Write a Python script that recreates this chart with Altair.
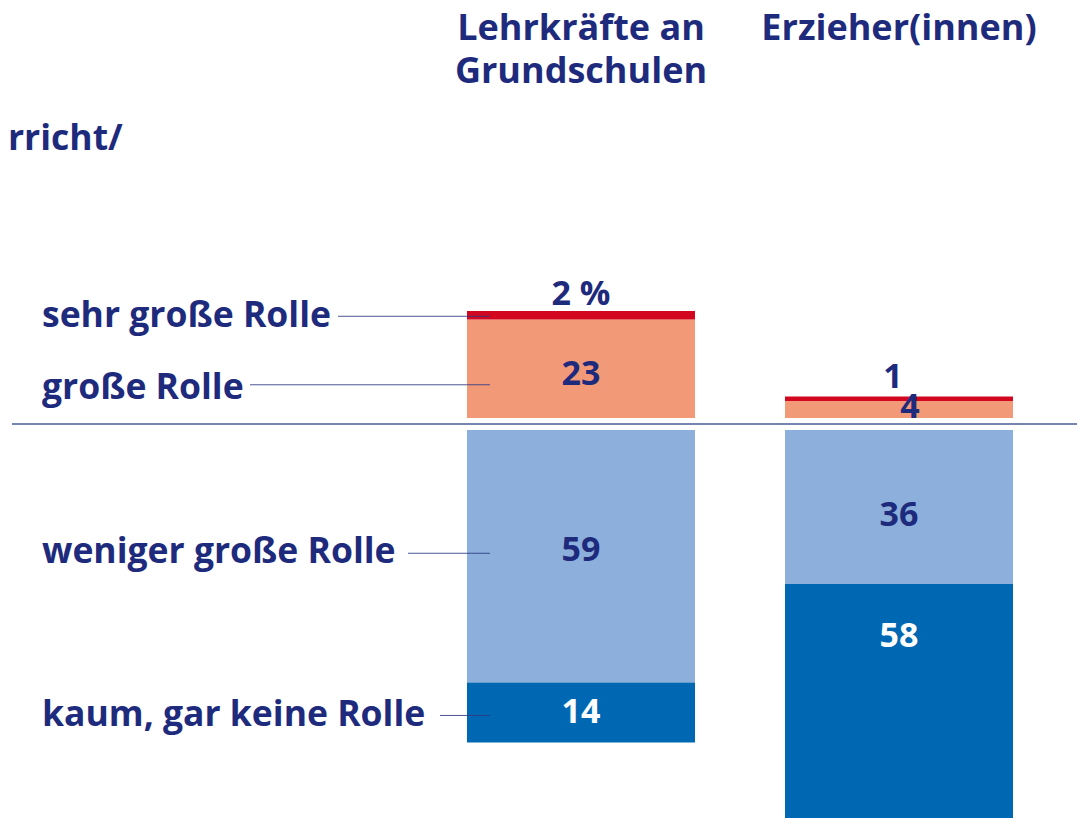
import altair as alt
import pandas as pd

# ---------------- data ----------------
groups = ["Lehrkräfte an Grundschulen", "Erzieher(innen)"]
header_text = ["Lehrkräfte an\nGrundschulen", "Erzieher(innen)"]
categories = ["sehr große Rolle", "große Rolle", "weniger große Rolle", "kaum, gar keine Rolle"]
sehr_gross = [2, 1]
gross = [23, 4]
weniger_gross = [59, 36]
kaum_keine = [14, 58]
cut_title = "rricht/"

# ---------------- style ----------------
NAVY = "#1e2b7d"
colors = ["#d2061e", "#f29a78", "#8cb0db", "#0068b2"]
FONT = "Open Sans"
W, H = 1069, 810
Y_DOMAIN = [-92.06, 97.2]
PPU = H / (Y_DOMAIN[1] - Y_DOMAIN[0])  # pixels per percentage point
# pixel nudges of labels relative to their segment anchors (positive = down)
val_dy = {("Lehrkräfte an Grundschulen", "sehr große Rolle"): -22,
          ("Lehrkräfte an Grundschulen", "große Rolle"): 0,
          ("Lehrkräfte an Grundschulen", "weniger große Rolle"): 1,
          ("Lehrkräfte an Grundschulen", "kaum, gar keine Rolle"): 7,
          ("Erzieher(innen)", "sehr große Rolle"): -25,
          ("Erzieher(innen)", "große Rolle"): -7,
          ("Erzieher(innen)", "weniger große Rolle"): 15,
          ("Erzieher(innen)", "kaum, gar keine Rolle"): -65}
val_dx = {("Erzieher(innen)", "große Rolle"): 11,
          ("Erzieher(innen)", "sehr große Rolle"): -6}
left_dy = [-5, 13, 2, 9]
conn_dy = [-5, 10, 3, 9]
conn_x0 = [330, 242, 400, 432]

# ---------------- tables ----------------
bar_rows, lab_rows = [], []
for i, g in enumerate(groups):
    segs = [
        ("große Rolle", 0, gross[i], "pos", gross[i]),
        ("sehr große Rolle", gross[i], gross[i] + sehr_gross[i], "pos", sehr_gross[i]),
        ("weniger große Rolle", 0, -weniger_gross[i], "neg", weniger_gross[i]),
        ("kaum, gar keine Rolle", -weniger_gross[i], -(weniger_gross[i] + kaum_keine[i]), "neg", kaum_keine[i]),
    ]
    for cat, a, b, sign, val in segs:
        bar_rows.append(dict(group=g, cat=cat, y0=a, y1=b, sign=sign))
        anchor = b if cat == "sehr große Rolle" else (a + b) / 2
        txt = f"{val} %" if (cat == "sehr große Rolle" and i == 0) else str(val)
        lab_rows.append(dict(group=g, cat=cat, v=anchor - val_dy[(g, cat)] / PPU, label=txt,
                             dx=val_dx.get((g, cat), 0),
                             white=cat == "kaum, gar keine Rolle"))
bars = pd.DataFrame(bar_rows)
labs = pd.DataFrame(lab_rows)

first = bars[bars.group == groups[0]].set_index("cat")
mids = [(first.loc[c, "y0"] + first.loc[c, "y1"]) / 2 for c in categories]
left = pd.DataFrame(dict(
    cat=categories,
    v=[m - d / PPU for m, d in zip(mids, left_dy)],
    cv=[m - d / PPU for m, d in zip(mids, conn_dy)],
    cx=conn_x0))

heads = pd.DataFrame(dict(group=groups, text=header_text))
heads["text"] = heads["text"].str.split("\n")

# ---------------- scales ----------------
xscale = alt.Scale(type="band", domain=groups, range=[459, 1005], paddingInner=0.283, paddingOuter=0)
yscale = alt.Scale(domain=Y_DOMAIN, range=[H, 0], nice=False, zero=False)
cscale = alt.Scale(domain=categories, range=colors)

X = alt.X("group:N", scale=xscale, axis=None)

pos = alt.Chart(bars[bars.sign == "pos"]).mark_bar(yOffset=-6, y2Offset=-6, clip=True).encode(
    x=X, y=alt.Y("y0:Q", scale=yscale, axis=None), y2="y1:Q",
    color=alt.Color("cat:N", scale=cscale, legend=None))
neg = alt.Chart(bars[bars.sign == "neg"]).mark_bar(yOffset=6, y2Offset=6, clip=True).encode(
    x=X, y=alt.Y("y0:Q", scale=yscale, axis=None), y2="y1:Q",
    color=alt.Color("cat:N", scale=cscale, legend=None))

baseline = alt.Chart(pd.DataFrame(dict(v=[0]))).mark_rule(color="#4a5a96", strokeWidth=1.5).encode(
    x=alt.value(4), x2=alt.value(W), y=alt.Y("v:Q", scale=yscale, axis=None))

connectors = alt.Chart(left).mark_rule(color="#2b3a80", strokeWidth=1, opacity=0.85).encode(
    x=alt.X("cx:Q", scale=None), x2=alt.value(482),
    y=alt.Y("cv:Q", scale=yscale, axis=None))

left_text = alt.Chart(left).mark_text(align="left", baseline="middle", font=FONT, fontWeight="bold",
                                      fontSize=35.5, color=NAVY).encode(
    x=alt.value(34), y=alt.Y("v:Q", scale=yscale, axis=None), text="cat:N")

val_enc = dict(
    x=X,
    y=alt.Y("v:Q", scale=yscale, axis=None),
    text="label:N",
    color=alt.condition("datum.white", alt.value("#ffffff"), alt.value(NAVY)))
val_layers = [
    alt.Chart(labs).transform_filter(f"datum.dx == {d}").mark_text(
        align="center", baseline="middle", font=FONT, fontWeight="bold", fontSize=34, dx=d).encode(**val_enc)
    for d in sorted(labs["dx"].unique())
]

head_text = alt.Chart(heads).mark_text(align="center", baseline="alphabetic", font=FONT, fontWeight="bold",
                                       fontSize=36, lineHeight=43, color=NAVY).encode(
    x=X, y=alt.value(32), text="text")

cut = alt.Chart(pd.DataFrame(dict(t=[cut_title]))).mark_text(
    align="left", baseline="alphabetic", font=FONT, fontWeight="bold", fontSize=35.5, color=NAVY).encode(
    x=alt.value(0), y=alt.value(142), text="t:N")

chart = alt.layer(pos, neg, baseline, connectors, left_text, *val_layers, head_text, cut).resolve_scale(
    x="independent").properties(width=W, height=H, padding=0, background="white",
                                autosize=alt.AutoSizeParams(type="none")).configure_view(stroke=None)

chart.save("out.html", embed_options={"renderer": "svg", "actions": False})
